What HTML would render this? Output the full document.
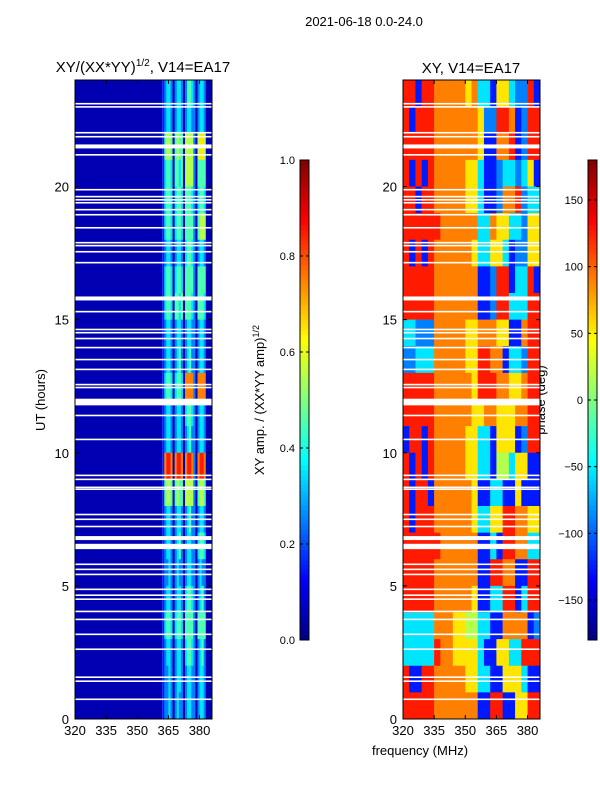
<!DOCTYPE html>
<html><head><meta charset="utf-8">
<style>
body{margin:0;background:#fff;}
svg{display:block;font-family:"Liberation Sans",sans-serif;}
</style></head>
<body>
<svg id="fig" width="600" height="800" viewBox="0 0 600 800">
<text x="364" y="26" font-size="13" text-anchor="middle">2021-06-18 0.0-24.0</text>
<text x="143" y="72" font-size="15" text-anchor="middle">XY/(XX*YY)<tspan font-size="10" dy="-6">1/2</tspan><tspan dy="6">, V14=EA17</tspan></text>
<text x="471" y="73" font-size="15" text-anchor="middle">XY, V14=EA17</text>
<text transform="translate(45,400) rotate(-90)" font-size="13" text-anchor="middle">UT (hours)</text>
<text x="420" y="755" font-size="13" text-anchor="middle">frequency (MHz)</text>
<text transform="translate(264,400) rotate(-90)" font-size="13" text-anchor="middle">XY amp. / (XX*YY amp)<tspan font-size="9" dy="-5">1/2</tspan></text>
<text transform="translate(545,400) rotate(-90)" font-size="13" text-anchor="middle">phase (deg)</text>
<g id="left"></g>
<g id="right"></g>
<g id="axes"></g>
</svg>
<script>
// Left panel: amplitude ratio, hourly rows top (23-24h) to bottom (0-1h), 1 MHz columns 362..385, digit d -> d/10+0.05
const leftBase = 0.05;
const leftRows = [
"123320233202443202332000",
"123320233202332202332000",
"145540454405555205665000",
"134430443405555204444000",
"134430344304443203443000",
"134430344304444204555000",
"123320233203443202332000",
"134430344304444204444000",
"134430443404443204443000",
"123320233202332202332000",
"123320234202342202332000",
"134430344307777207777000",
"123320233203443202332000",
"123320233202342202332000",
"178870788707887207887000",
"145540454405555204554000",
"123320233202342202332000",
"123320234202332203443000",
"122320232202332202322000",
"123320233203443202342000",
"134430344304444204444000",
"123320233203443202342000",
"122320233202332202332000",
"122320232202332202332000"];
// Right panel: phase, hourly rows top to bottom, 3 MHz columns 320..383, digit d -> -162+36*d deg
const rightRows = [
"8818877777673316632281",
"8188877777776228871288",
"8888877777776117781288",
"8181877777663112332361",
"8818877777663112778233",
"8888887777773376633266",
"8181877777763366312266",
"8888877777771128813381",
"8888877777771128833388",
"3322277777667776611788",
"2233377777668877133288",
"8888877777768887766788",
"8888877777766776667788",
"1881877777663316661288",
"8181877777663315536611",
"8188177777761133116111",
"8188877777763366887766",
"8888887777771131887733",
"8888877777771188771188",
"8888877777761133881388",
"3333377766553311777712",
"3333387766663116633888",
"8118877777663311666311",
"8888877777771188116688"];
// Flagged (white) time gaps: start hour and width in hours
const gapHours = [23.08,22.96,21.99,21.84,21.43,21.16,19.85,19.59,19.47,19.36,19.1,18.91,18.42,17.86,17.75,17.52,17.11,15.72,15.27,14.6,14.48,14.26,13.92,13.47,13.1,12.53,12.42,11.78,11.37,10.47,9.12,8.97,8.67,8.6,7.65,7.47,7.2,6.72,6.38,5.78,5.59,5.4,4.84,4.62,4.47,4.01,3.71,3.15,2.59,1.54,1.39,0.71];
const gapWidths = [0.06,0.06,0.06,0.06,0.15,0.06,0.06,0.06,0.06,0.06,0.06,0.06,0.06,0.06,0.06,0.06,0.06,0.15,0.06,0.06,0.06,0.06,0.06,0.06,0.06,0.06,0.06,0.25,0.06,0.06,0.06,0.06,0.06,0.06,0.06,0.06,0.06,0.15,0.2,0.06,0.06,0.06,0.06,0.06,0.06,0.06,0.06,0.06,0.06,0.06,0.06,0.06];
const xTicks = [320,335,350,365,380];
const yTicks = [0,5,10,15,20];
const ampTicks = [0.0,0.2,0.4,0.6,0.8,1.0];
const phaseTicks = [-150,-100,-50,0,50,100,150];

const NS="http://www.w3.org/2000/svg";
function jet(v){v=Math.max(0,Math.min(1,v));
 const c=t=>Math.round(255*Math.max(0,Math.min(1,1.5-Math.abs(4*v-t))));
 return `rgb(${c(3)},${c(2)},${c(1)})`;}
function mk(tag,attrs,parent){const e=document.createElementNS(NS,tag);for(const k in attrs)e.setAttribute(k,attrs[k]);parent.appendChild(e);return e;}
const PY={top:80,bot:719}, L={x0:75,x1:212}, R={x0:403,x1:540};
const F0=320,F1=386;
const yS=h=>PY.bot-(h/24)*(PY.bot-PY.top);
const xS=(p,f)=>p.x0+(f-F0)/(F1-F0)*(p.x1-p.x0);

const gl=document.getElementById('left'), gr=document.getElementById('right'), ga=document.getElementById('axes');
let b=mk('rect',{x:xS(L,320),y:PY.top,width:xS(L,362)-xS(L,320),height:PY.bot-PY.top,fill:jet(leftBase)},gl);


leftRows.forEach((row,i)=>{const h1=24-i,h0=23-i;
 for(let j=0;j<row.length;j++){const f=362+j;
  const r=mk('rect',{x:xS(L,f),y:yS(h1),width:xS(L,f+1)-xS(L,f)+0.3,height:yS(h0)-yS(h1)+0.3,fill:jet(+row[j]/10+0.05)},gl);
  
  
 }});
rightRows.forEach((row,i)=>{const h1=24-i,h0=23-i;
 for(let j=0;j<row.length;j++){const f=320+3*j;
  const deg=-162+36*(+row[j]);
  const r=mk('rect',{x:xS(R,f),y:yS(h1),width:xS(R,f+3)-xS(R,f)+0.3,height:yS(h0)-yS(h1)+0.3,fill:jet((deg+180)/360)},gr);
  
  
 }});
gapHours.forEach((h,i)=>{[L,R].forEach(p=>{
 const r=mk('rect',{x:p.x0,y:yS(h+gapWidths[i]),width:p.x1-p.x0,height:Math.max(1.5,yS(h)-yS(h+gapWidths[i])),fill:'#fff'},p===L?gl:gr);
 
 
});});
[L,R].forEach(p=>{
 const fr=mk('rect',{x:p.x0,y:PY.top,width:p.x1-p.x0,height:PY.bot-PY.top,fill:'none',stroke:'#000','stroke-width':1},ga);
 
 
 xTicks.forEach(v=>{const x=xS(p,v);
  mk('line',{x1:x,x2:x,y1:PY.bot,y2:PY.bot-4,stroke:'#000'},ga);
  mk('line',{x1:x,x2:x,y1:PY.top,y2:PY.top+4,stroke:'#000'},ga);
  const t=mk('text',{x:x,y:PY.bot+16,'font-size':13,'text-anchor':'middle'},ga);t.textContent=v;
  
  });
 yTicks.forEach(v=>{const y=yS(v);
  mk('line',{x1:p.x0,x2:p.x0+4,y1:y,y2:y,stroke:'#000'},ga);
  mk('line',{x1:p.x1,x2:p.x1-4,y1:y,y2:y,stroke:'#000'},ga);
  const t=mk('text',{x:p.x0-6,y:y+5,'font-size':13,'text-anchor':'end'},ga);t.textContent=v;
  
  });
});
function cbar(x,ticks,lo,hi,name,fmt){
 const y0=160,y1=640,w=9;
 for(let k=0;k<96;k++){const r=mk('rect',{x:x,y:y1-(k+1)*5,width:w,height:5.3,fill:jet((k+0.5)/96)},ga);
  
  }
 mk('rect',{x:x,y:y0,width:w,height:y1-y0,fill:'none',stroke:'#000'},ga);
 ticks.forEach(v=>{const y=y1-(v-lo)/(hi-lo)*(y1-y0);
  mk('line',{x1:x,x2:x+3,y1:y,y2:y,stroke:'#000'},ga);
  mk('line',{x1:x+w,x2:x+w-3,y1:y,y2:y,stroke:'#000'},ga);
  const t=mk('text',{x:x-5,y:y+4,'font-size':11,'text-anchor':'end'},ga);t.textContent=fmt(v);
  
  });
}
cbar(300,ampTicks,0,1,'amp-colorbar',v=>v.toFixed(1));
cbar(588,phaseTicks,-180,180,'phase-colorbar',v=>v<0?'\u2212'+(-v):''+v);
</script>
</body></html>
